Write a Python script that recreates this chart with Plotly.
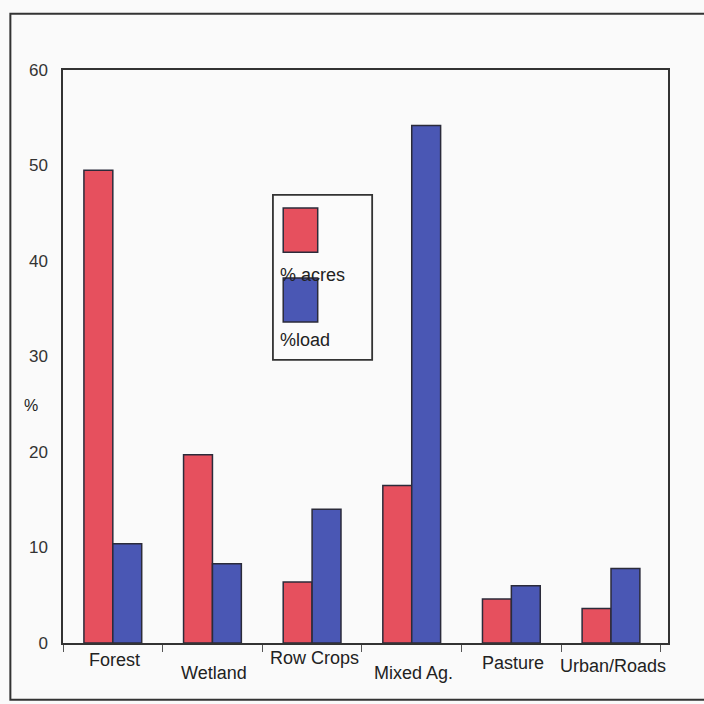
import plotly.graph_objects as go

# Land use categories and their share of acreage vs. share of load (%)
categories = ["Forest", "Wetland", "Row Crops", "Mixed Ag.", "Pasture", "Urban/Roads"]
pct_acres = [49.5, 19.7, 6.4, 16.5, 4.6, 3.6]
pct_load = [10.4, 8.3, 14.0, 54.2, 6.0, 7.8]
series_names = ["% acres", "%load"]
y_ticks = [0, 10, 20, 30, 40, 50, 60]

RED = "#e6505e"
BLUE = "#4a57b4"
EDGE = "#2b2b3a"
FONT = "Liberation Sans, Arial, sans-serif"

fig = go.Figure()
fig.add_trace(go.Bar(x=categories, y=pct_acres, name=series_names[0],
                     marker=dict(color=RED, line=dict(color=EDGE, width=1.5))))
fig.add_trace(go.Bar(x=categories, y=pct_load, name=series_names[1],
                     marker=dict(color=BLUE, line=dict(color=EDGE, width=1.5))))

# staggered category labels under the axis
label_shift = [-17, -30, -15, -30, -20, -23]
annotations = []
for cat, dy in zip(categories, label_shift):
    annotations.append(dict(x=cat, xref="x", y=0, yref="paper", yanchor="middle",
                            yshift=dy, xshift=2, text=cat, showarrow=False,
                            font=dict(family=FONT, size=18, color="#222")))

# y axis title
annotations.append(dict(x=-0.068, xref="paper", y=0.415, yref="paper", text="%",
                        showarrow=False, font=dict(family=FONT, size=16, color="#222")))

# legend: label sits under each swatch
annotations.append(dict(x=0.356, xref="paper", y=0.642, yref="paper", xanchor="left",
                        text=series_names[0], showarrow=False,
                        font=dict(family=FONT, size=18, color="#222")))
annotations.append(dict(x=0.356, xref="paper", y=0.529, yref="paper", xanchor="left",
                        text=series_names[1], showarrow=False,
                        font=dict(family=FONT, size=18, color="#222")))

shapes = [
    # outer frame
    dict(type="rect", xref="paper", yref="paper", x0=-0.087, x1=1.2, y0=-0.099, y1=1.098,
         line=dict(color="#333", width=2), fillcolor="rgba(0,0,0,0)", layer="above"),
    # legend box
    dict(type="rect", xref="paper", yref="paper", x0=0.347, x1=0.511, y0=0.494, y1=0.782,
         line=dict(color="#333", width=1.8), fillcolor="#fbfbfb", layer="above"),
    dict(type="rect", xref="paper", yref="paper", x0=0.364, x1=0.421, y0=0.682, y1=0.759,
         line=dict(color=EDGE, width=1.5), fillcolor=RED, layer="above"),
    dict(type="rect", xref="paper", yref="paper", x0=0.364, x1=0.421, y0=0.560, y1=0.637,
         line=dict(color=EDGE, width=1.5), fillcolor=BLUE, layer="above"),
]

fig.update_layout(
    width=704, height=704,
    margin=dict(l=63, r=36, t=70, b=61),
    paper_bgcolor="#fafafa", plot_bgcolor="#fafafa",
    barmode="group", bargap=0.42, bargroupgap=0.0,
    showlegend=False,
    font=dict(family=FONT, color="#222"),
    annotations=annotations, shapes=shapes,
)
fig.update_xaxes(showline=True, linecolor="#333", linewidth=1.5, mirror=True,
                 showgrid=False, showticklabels=False,
                 ticks="outside", tickson="boundaries", ticklen=7,
                 tickcolor="#555", tickwidth=1.2)
fig.update_yaxes(range=[0, 60], tickvals=y_ticks, showline=True, linecolor="#333",
                 linewidth=1.5, mirror=True, showgrid=False, zeroline=False,
                 ticks="", ticklabelstandoff=10,
                 tickfont=dict(family=FONT, size=17, color="#333"))

fig.write_html("out.html")
